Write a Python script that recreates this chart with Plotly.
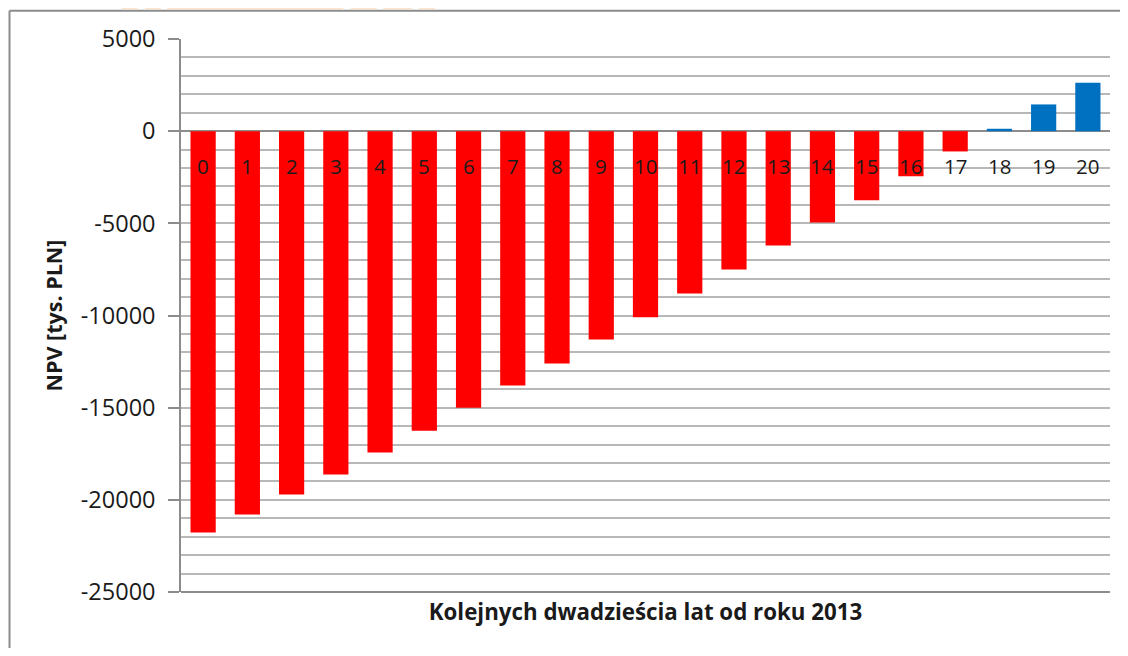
import plotly.graph_objects as go

years = [str(i) for i in range(21)]
npv = [-21770, -20800, -19710, -18620, -17430, -16250, -15000, -13800, -12600,
       -11300, -10100, -8800, -7500, -6200, -4950, -3750, -2440, -1100, 130, 1450, 2630]
y_ticks = [5000, 0, -5000, -10000, -15000, -20000, -25000]
x_title = "Kolejnych dwadzieścia lat od roku 2013"
y_title = "NPV [tys. PLN]"

RED = "#FF0000"
BLUE = "#0070C0"
colors = [RED if v < 0 else BLUE for v in npv]
FONT = "Open Sans, Lato, sans-serif"
TXT = "#1a1a1a"

# page has an 8px body margin; plot area target (page px): x 181..1110, y 39.3..591.7
W, H = 1120, 640
L, T = 173, 31.3
PW, PH = 929, 552.4

fig = go.Figure()
fig.add_trace(go.Bar(x=years, y=npv, marker=dict(color=colors, line=dict(width=0)),
                     width=0.57, hoverinfo="x+y"))

for cat in years:
    fig.add_annotation(x=cat, y=0, xref="x", yref="y", text=cat, showarrow=False,
                       yanchor="middle", yshift=-35,
                       font=dict(family=FONT, size=20.5, color=TXT))

# outer chart border: only left and top edges are visible in the frame
bx = (1.5 - L) / PW
by = 1 + (T - 3) / PH
fig.add_shape(type="line", xref="paper", yref="paper", x0=bx, x1=1.1, y0=by, y1=by,
              line=dict(color="#8c8c8c", width=2), layer="below")
fig.add_shape(type="line", xref="paper", yref="paper", x0=bx, x1=bx, y0=by, y1=-0.3,
              line=dict(color="#8c8c8c", width=2), layer="below")

# watermark strip at top (only partly visible)
for x0, x1 in [(121.7, 137.7), (145, 161), (167.3, 343.3), (350.7, 376.7), (383.3, 412.3), (419, 435)]:
    fig.add_shape(type="rect", xref="paper", yref="paper",
                  x0=(x0 - 181) / PW, x1=(x1 - 181) / PW,
                  y0=1 + (39.3 - 9.5) / PH, y1=1 + 39.3 / PH,
                  line=dict(width=0), fillcolor="#FFE3C9", layer="below")

fig.update_layout(
    width=W, height=H,
    margin=dict(l=L, r=W - L - PW, t=T, b=H - T - PH),
    paper_bgcolor="white", plot_bgcolor="white",
    showlegend=False, bargap=0.43,
    font=dict(family=FONT, color=TXT),
    xaxis=dict(
        showticklabels=False, ticks="", showgrid=False, zeroline=False,
        showline=False,
        title=dict(text="<b>" + x_title + "</b>", font=dict(family=FONT, size=22.3, color=TXT),
                   standoff=12),
    ),
    yaxis=dict(
        range=[-25000, 5000], tickvals=y_ticks, ticktext=[str(v) for v in y_ticks],
        ticks="outside", ticklen=11, tickcolor="#8c8c8c", tickwidth=1.5,
        tickfont=dict(family=FONT, size=23.5, color=TXT),
        showgrid=True, gridcolor="#b8b8b8", gridwidth=1.5,
        minor=dict(dtick=1000, showgrid=True, gridcolor="#b8b8b8", gridwidth=1.5, ticks=""),
        zeroline=True, zerolinecolor="#8c8c8c", zerolinewidth=1.5,
        showline=True, linecolor="#8c8c8c", linewidth=1.5, mirror=False,
        ticklabelstandoff=8,
        title=dict(text="<b>" + y_title + "</b>", font=dict(family=FONT, size=21.5, color=TXT),
                   standoff=12),
    ),
)
# bottom axis line
fig.add_shape(type="line", xref="paper", yref="paper", x0=0, x1=1, y0=0, y1=0,
              line=dict(color="#8c8c8c", width=2))

fig.write_html("out.html")
